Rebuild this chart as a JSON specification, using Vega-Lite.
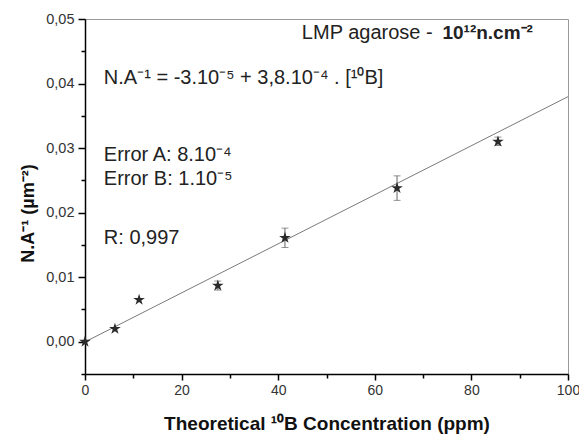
{
  "$schema": "https://vega.github.io/schema/vega-lite/v6.json",
  "width": 483,
  "height": 355,
  "autosize": {"type": "none"},
  "padding": {"left": 85, "top": 19, "right": 11, "bottom": 62},
  "background": "white",
  "config": {
    "view": {"stroke": "#999999", "strokeWidth": 1},
    "font": "Liberation Sans"
  },
  "resolve": {"axis": {"x": "independent", "y": "independent"}},
  "datasets": {
    "points": [
      {"conc": 0, "val": 0.0, "lo": 0.0, "hi": 0.0},
      {"conc": 6.2, "val": 0.0020, "lo": 0.0018, "hi": 0.0022},
      {"conc": 11.2, "val": 0.0065, "lo": 0.0063, "hi": 0.0067},
      {"conc": 27.5, "val": 0.0087, "lo": 0.0080, "hi": 0.0094},
      {"conc": 41.4, "val": 0.0161, "lo": 0.0146, "hi": 0.0176},
      {"conc": 64.6, "val": 0.0238, "lo": 0.0219, "hi": 0.0257},
      {"conc": 85.5, "val": 0.0310, "lo": 0.0304, "hi": 0.0317}
    ],
    "fit": [
      {"conc": 0, "val": -0.00003},
      {"conc": 100, "val": 0.03797}
    ],
    "notes": [
      {"x": 3.9, "y": 0.04087, "label": "N.A⁻¹ = -3.10⁻⁵ + 3,8.10⁻⁴ . [¹⁰B]"},
      {"x": 3.9, "y": 0.02895, "label": "Error A: 8.10⁻⁴"},
      {"x": 3.9, "y": 0.02523, "label": "Error B: 1.10⁻⁵"},
      {"x": 3.9, "y": 0.0161, "label": "R: 0,997"},
      {"x": 44.9, "y": 0.04783, "label": "LMP agarose - "}
    ],
    "bold": [
      {"x": 74.0, "y": 0.04783, "label": "10¹²n.cm⁻²"}
    ]
  },
  "layer": [
    {
      "data": {"name": "fit"},
      "mark": {"type": "line", "color": "#7a7a7a", "strokeWidth": 1, "clip": true},
      "encoding": {
        "x": {
          "field": "conc", "type": "quantitative",
          "scale": {"domain": [0, 100], "nice": false, "zero": false},
          "axis": {
            "orient": "bottom",
            "title": "Theoretical ¹⁰B Concentration (ppm)",
            "values": [0, 20, 40, 60, 80, 100],
            "grid": false,
            "domainColor": "#000000",
            "domainWidth": 1.5,
            "tickColor": "#000000",
            "tickWidth": 1.5,
            "tickSize": 6,
            "labelFontSize": 14,
            "labelColor": "#333333",
            "labelPadding": 3,
            "labelFlush": false,
            "titleFontSize": 19,
            "titleFontWeight": "bold",
            "titleColor": "#111111",
            "titlePadding": 17
          }
        },
        "y": {
          "field": "val", "type": "quantitative",
          "scale": {"domain": [-0.005, 0.05], "nice": false, "zero": false},
          "axis": {
            "orient": "left",
            "title": "N.A⁻¹ (µm⁻²)",
            "values": [0, 0.01, 0.02, 0.03, 0.04, 0.05],
            "format": ".2f",
            "labelExpr": "replace(datum.label, '.', ',')",
            "grid": false,
            "domainColor": "#000000",
            "domainWidth": 1.5,
            "tickColor": "#000000",
            "tickWidth": 1.5,
            "tickSize": 7,
            "labelFontSize": 14.5,
            "labelColor": "#333333",
            "labelPadding": 4,
            "labelFlush": false,
            "labelOverlap": false,
            "titleFontSize": 18,
            "titleFontWeight": "bold",
            "titleColor": "#111111",
            "titlePadding": 8,
            "titleY": 194
          }
        }
      }
    },
    {
      "data": {"name": "points"},
      "transform": [{"filter": "datum.hi - datum.lo > 0.0005"}],
      "mark": {"type": "rule", "color": "#666666", "strokeWidth": 1},
      "encoding": {
        "x": {
          "field": "conc", "type": "quantitative",
          "axis": {
            "orient": "bottom",
            "title": null,
            "values": [10, 30, 50, 70, 90],
            "labels": false,
            "domain": false,
            "grid": false,
            "tickColor": "#000000",
            "tickWidth": 1.5,
            "tickSize": 4
          }
        },
        "y": {
          "field": "lo", "type": "quantitative",
          "axis": {
            "orient": "left",
            "title": null,
            "values": [-0.005, 0.005, 0.015, 0.025, 0.035, 0.045],
            "labels": false,
            "domain": false,
            "grid": false,
            "tickColor": "#000000",
            "tickWidth": 1.5,
            "tickSize": 4
          }
        },
        "y2": {"field": "hi"}
      }
    },
    {
      "data": {"name": "points"},
      "transform": [{"filter": "datum.hi - datum.lo > 0.0005"}],
      "mark": {"type": "tick", "orient": "horizontal", "color": "#666666", "size": 7, "thickness": 1},
      "encoding": {
        "x": {"field": "conc", "type": "quantitative", "axis": null},
        "y": {"field": "lo", "type": "quantitative", "axis": null}
      }
    },
    {
      "data": {"name": "points"},
      "transform": [{"filter": "datum.hi - datum.lo > 0.0005"}],
      "mark": {"type": "tick", "orient": "horizontal", "color": "#666666", "size": 7, "thickness": 1},
      "encoding": {
        "x": {"field": "conc", "type": "quantitative", "axis": null},
        "y": {"field": "hi", "type": "quantitative", "axis": null}
      }
    },
    {
      "data": {"name": "points"},
      "mark": {
        "type": "point",
        "shape": "M0,-1L0.2245,-0.309L0.951,-0.309L0.363,0.118L0.588,0.809L0,0.382L-0.588,0.809L-0.363,0.118L-0.951,-0.309L-0.2245,-0.309Z",
        "filled": true,
        "color": "#2b2b2b",
        "opacity": 1,
        "size": 150
      },
      "encoding": {
        "x": {"field": "conc", "type": "quantitative", "axis": null},
        "y": {"field": "val", "type": "quantitative", "axis": null}
      }
    },
    {
      "data": {"name": "notes"},
      "mark": {"type": "text", "align": "left", "baseline": "middle", "fontSize": 20, "color": "#222222"},
      "encoding": {
        "x": {"field": "x", "type": "quantitative", "axis": null},
        "y": {"field": "y", "type": "quantitative", "axis": null},
        "text": {"field": "label"}
      }
    },
    {
      "data": {"name": "bold"},
      "mark": {"type": "text", "align": "left", "baseline": "middle", "fontSize": 19, "fontWeight": "bold", "color": "#222222"},
      "encoding": {
        "x": {"field": "x", "type": "quantitative", "axis": null},
        "y": {"field": "y", "type": "quantitative", "axis": null},
        "text": {"field": "label"}
      }
    }
  ]
}
